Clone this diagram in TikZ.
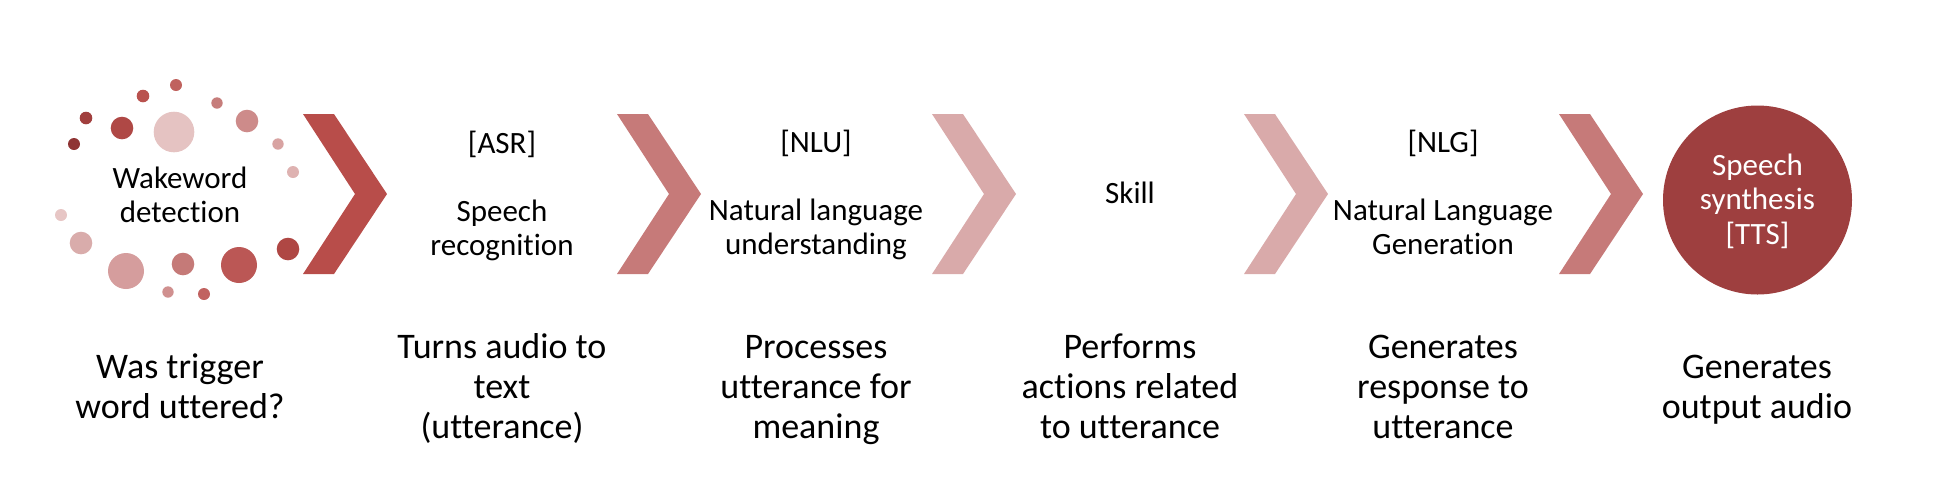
\documentclass[tikz,border=0pt]{standalone}
\usepackage{fontspec}
\setmainfont{Carlito}[Ligatures={NoCommon}]
\definecolor{chA}{HTML}{B84D4A}
\definecolor{chB}{HTML}{C67A79}
\definecolor{chC}{HTML}{D9AAAA}
\definecolor{ttscol}{HTML}{9E3F3F}
\newcommand\mychev[2]{\fill[#2] (#1,114) -- ++(31,0) -- ++(53,80) -- ++(-53,80) -- ++(-31,0) -- ++(52,-80) -- cycle;}
\begin{document}
\begin{tikzpicture}[x=0.5pt,y=-0.5pt,
  upper/.style={align=center, anchor=base, inner sep=0pt, font=\fontsize{15.5}{17}\selectfont},
  lower/.style={align=center, anchor=base, inner sep=0pt, font=\fontsize{18}{20}\selectfont}]
\useasboundingbox (0,0) rectangle (1935,500);
% dots
\definecolor{d1}{HTML}{C0625E}\fill[d1] (176,85) circle (6);
\definecolor{d2}{HTML}{B9524E}\fill[d2] (143,96) circle (6.3);
\definecolor{d3}{HTML}{C67D7B}\fill[d3] (217,103) circle (5.7);
\definecolor{d4}{HTML}{A13F3E}\fill[d4] (86,118) circle (6.3);
\definecolor{d5}{HTML}{AF4845}\fill[d5] (122,128) circle (11.3);
\definecolor{d6}{HTML}{E5C3C2}\fill[d6] (174,132) circle (20.3);
\definecolor{d7}{HTML}{CD8B8A}\fill[d7] (247,121) circle (11.3);
\definecolor{d8}{HTML}{8F3434}\fill[d8] (74,144) circle (6);
\definecolor{d9}{HTML}{D8A3A2}\fill[d9] (278,144) circle (5.7);
\definecolor{d10}{HTML}{DEB2B1}\fill[d10] (293,172) circle (6);
\definecolor{d11}{HTML}{E7C6C5}\fill[d11] (61,215) circle (6);
\definecolor{d12}{HTML}{D9ACAB}\fill[d12] (81,243) circle (11.3);
\definecolor{d13}{HTML}{D59D9D}\fill[d13] (126,271) circle (18);
\definecolor{d14}{HTML}{C57A78}\fill[d14] (183,264) circle (11.3);
\definecolor{d15}{HTML}{BB5755}\fill[d15] (239,265) circle (18);
\definecolor{d16}{HTML}{AF4744}\fill[d16] (288,249) circle (11.3);
\definecolor{d17}{HTML}{D0908F}\fill[d17] (168,292) circle (5.7);
\definecolor{d18}{HTML}{C16260}\fill[d18] (204,294) circle (6);
% chevrons
\mychev{303}{chA}
\mychev{617}{chB}
\mychev{932}{chC}
\mychev{1244}{chC}
\mychev{1559}{chB}
% circle
\node[circle, fill=ttscol, minimum size=94.5pt, inner sep=0pt] (tts) at (1757.5,200) {};
\node[upper, text=white, font=\fontsize{15.5}{17.25}\selectfont] (ttstext) at (1757.5,244) {Speech\\synthesis\\{[TTS]}};
% upper texts
\node[upper] (wake) at (180,222) {Wakeword\\detection};
\node[upper] (asr) at (502,255) {[ASR]\\[17pt]Speech\\recognition};
\node[upper] (nlu) at (816,254) {[NLU]\\[17pt]Natural language\\understanding};
\node[upper] (skill) at (1130,203) {Skill};
\node[upper] (nlg) at (1443,254) {[NLG]\\[17pt]Natural Language\\Generation};
% lower texts
\node[lower] (b1) at (180,418) {Was trigger\\word uttered?};
\node[lower] (b2) at (502,438) {Turns audio to\\text\\(utterance)};
\node[lower] (b3) at (816,438) {Processes\\utterance for\\meaning};
\node[lower] (b4) at (1130,438) {Performs\\actions related\\to utterance};
\node[lower] (b5) at (1443,438) {Generates\\response to\\utterance};
\node[lower] (b6) at (1757,418) {Generates\\output audio};
\end{tikzpicture}
\end{document}
